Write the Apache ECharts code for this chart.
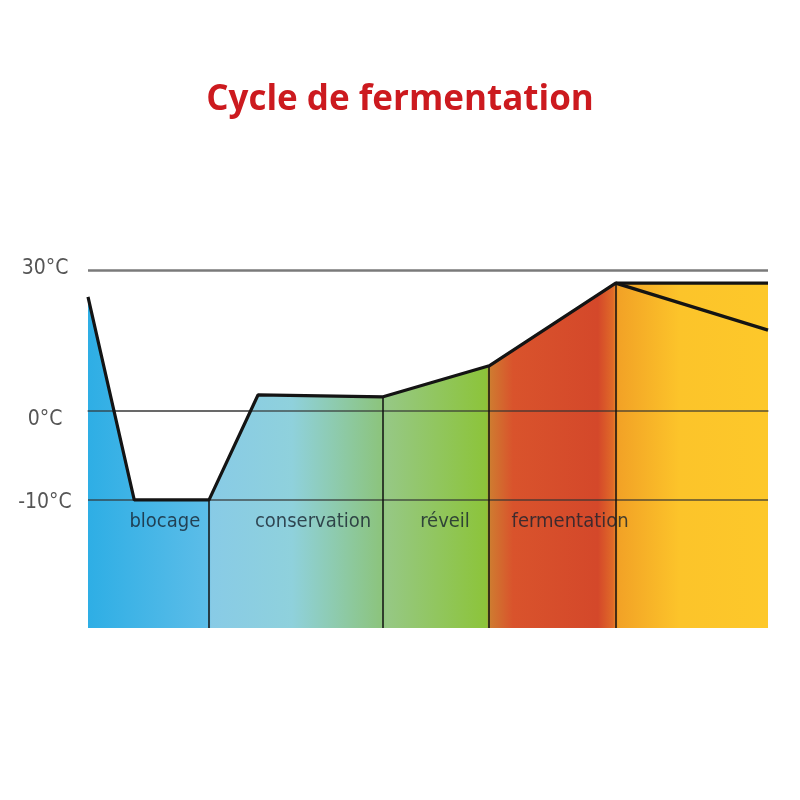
<!DOCTYPE html>
<html>
<head>
<meta charset="utf-8">
<script src="https://cdn.jsdelivr.net/npm/echarts@6/dist/echarts.min.js"></script>
<style>html,body{margin:0;padding:0;background:#fff}#c{width:800px;height:800px}</style>
</head>
<body>
<div id="c"></div>
<script>
// ---- data ----
const titleText = 'Cycle de fermentation';
const progress = [0, 6.8, 17.8, 25.0, 43.4, 59.0, 77.6, 100];      // x (% of cycle)
const tempC = [24.3, -10, -10, 3.4, 3.0, 9.6, 27.2, 27.2];          // °C
const coolingX = [77.6, 100];
const coolingC = [27.2, 17.2];
const dividerIdx = [2, 4, 5, 6];
const phaseNames = ['blocage', 'conservation', 'réveil', 'fermentation'];
const phaseX = [11.3, 33.1, 52.5, 70.9];
const phaseC = [-12.5, -12.5, -12.5, -12.5];
const tickC = [-10, 0, 30];

// the original drawing compresses the positive range
const POS_SCALE = 0.528;
const toAxis = t => (t > 0 ? t * POS_SCALE : t);
const fromAxis = v => (v > 0 ? Math.round(v / POS_SCALE) : Math.round(v));
const Y_MIN = -24.4;
const Y_MAX = toAxis(30);

const labelFont = '"Liberation Sans Narrow", "DejaVu Sans Condensed", "Roboto Condensed", sans-serif';

const chart = echarts.init(document.getElementById('c'));
const gradient = new echarts.graphic.LinearGradient(0, 0, 1, 0, [
  {offset: 0, color: '#2eaee5'},
  {offset: 0.176, color: '#5cbde8'},
  {offset: 0.181, color: '#88cbe6'},
  {offset: 0.30, color: '#8fd1dc'},
  {offset: 0.43, color: '#8cc47e'},
  {offset: 0.44, color: '#96c884'},
  {offset: 0.586, color: '#8cc43a'},
  {offset: 0.592, color: '#cf7a30'},
  {offset: 0.625, color: '#d9532c'},
  {offset: 0.75, color: '#d4482a'},
  {offset: 0.772, color: '#e06a28'},
  {offset: 0.78, color: '#f2a226'},
  {offset: 0.87, color: '#fcc42a'},
  {offset: 1, color: '#fdc82a'}
]);

const mainData = progress.map((x, i) => [x, toAxis(tempC[i])]);
const labelShift = {'-10': 'b', '0': 'c', '30': 'a'};

chart.setOption({
  animation: false,
  title: {
    text: titleText, left: 'center', top: 78,
    textStyle: {color: '#cc1a1f', fontSize: 35, fontWeight: 'bold', fontFamily: '"Open Sans", sans-serif'}
  },
  grid: {left: 88, right: 32, top: 270, bottom: 172},
  xAxis: {
    type: 'value', min: 0, max: 100,
    axisLine: {show: true, lineStyle: {color: 'rgba(60,60,60,0.35)', width: 2}},
    axisTick: {show: false}, axisLabel: {show: false}, splitLine: {show: false}
  },
  yAxis: {
    type: 'value', min: Y_MIN, max: Y_MAX,
    axisLine: {show: false}, axisTick: {show: false}, splitLine: {show: false},
    axisLabel: {
      customValues: tickC.map(toAxis), showMinLabel: true, showMaxLabel: true,
      formatter: v => { const t = fromAxis(v); return '{' + labelShift[t] + '|' + t + '°C}'; },
      margin: 43, align: 'center',
      color: '#555', fontSize: 21, fontFamily: labelFont,
      rich: {
        a: {color: '#555', fontSize: 21, fontFamily: labelFont, padding: [0, 0, 2, 0]},
        b: {color: '#555', fontSize: 21, fontFamily: labelFont, padding: [6, 0, 0, 0]},
        c: {color: '#555', fontSize: 21, fontFamily: labelFont, padding: [18, 0, 0, 0]}
      }
    }
  },
  series: [
    {
      type: 'line', data: mainData, symbol: 'none', z: 1,
      lineStyle: {width: 0},
      areaStyle: {origin: 'start', color: gradient, opacity: 1},
      markLine: {
        silent: true, symbol: ['none', 'none'], z: 2, label: {show: false},
        data: [
          ...tickC.map((t, i) => ({
            yAxis: toAxis(t),
            lineStyle: i === tickC.length - 1
              ? {color: '#7a7a7a', width: 2.5, type: 'solid'}
              : {color: 'rgba(50,50,50,0.6)', width: 1.8, type: 'solid'}
          })),
          ...dividerIdx.map(i => [
            {coord: [progress[i], Y_MIN], lineStyle: {color: 'rgba(15,15,15,0.75)', width: 2, type: 'solid'}},
            {coord: [progress[i], toAxis(tempC[i])]}
          ])
        ]
      }
    },
    {
      type: 'line', data: mainData, symbol: 'none', z: 3,
      lineStyle: {color: '#141414', width: 3.2}
    },
    {
      type: 'line', data: coolingX.map((x, i) => [x, toAxis(coolingC[i])]), symbol: 'none', z: 3,
      lineStyle: {color: '#141414', width: 3.2}
    },
    {
      type: 'scatter', symbolSize: 0, z: 4,
      data: phaseNames.map((n, i) => ({name: n, value: [phaseX[i], toAxis(phaseC[i])]})),
      label: {
        show: true, position: 'inside', formatter: p => p.name,
        color: '#17222e', fontSize: 20, fontFamily: labelFont
      }
    }
  ]
});
</script>
</body>
</html>
